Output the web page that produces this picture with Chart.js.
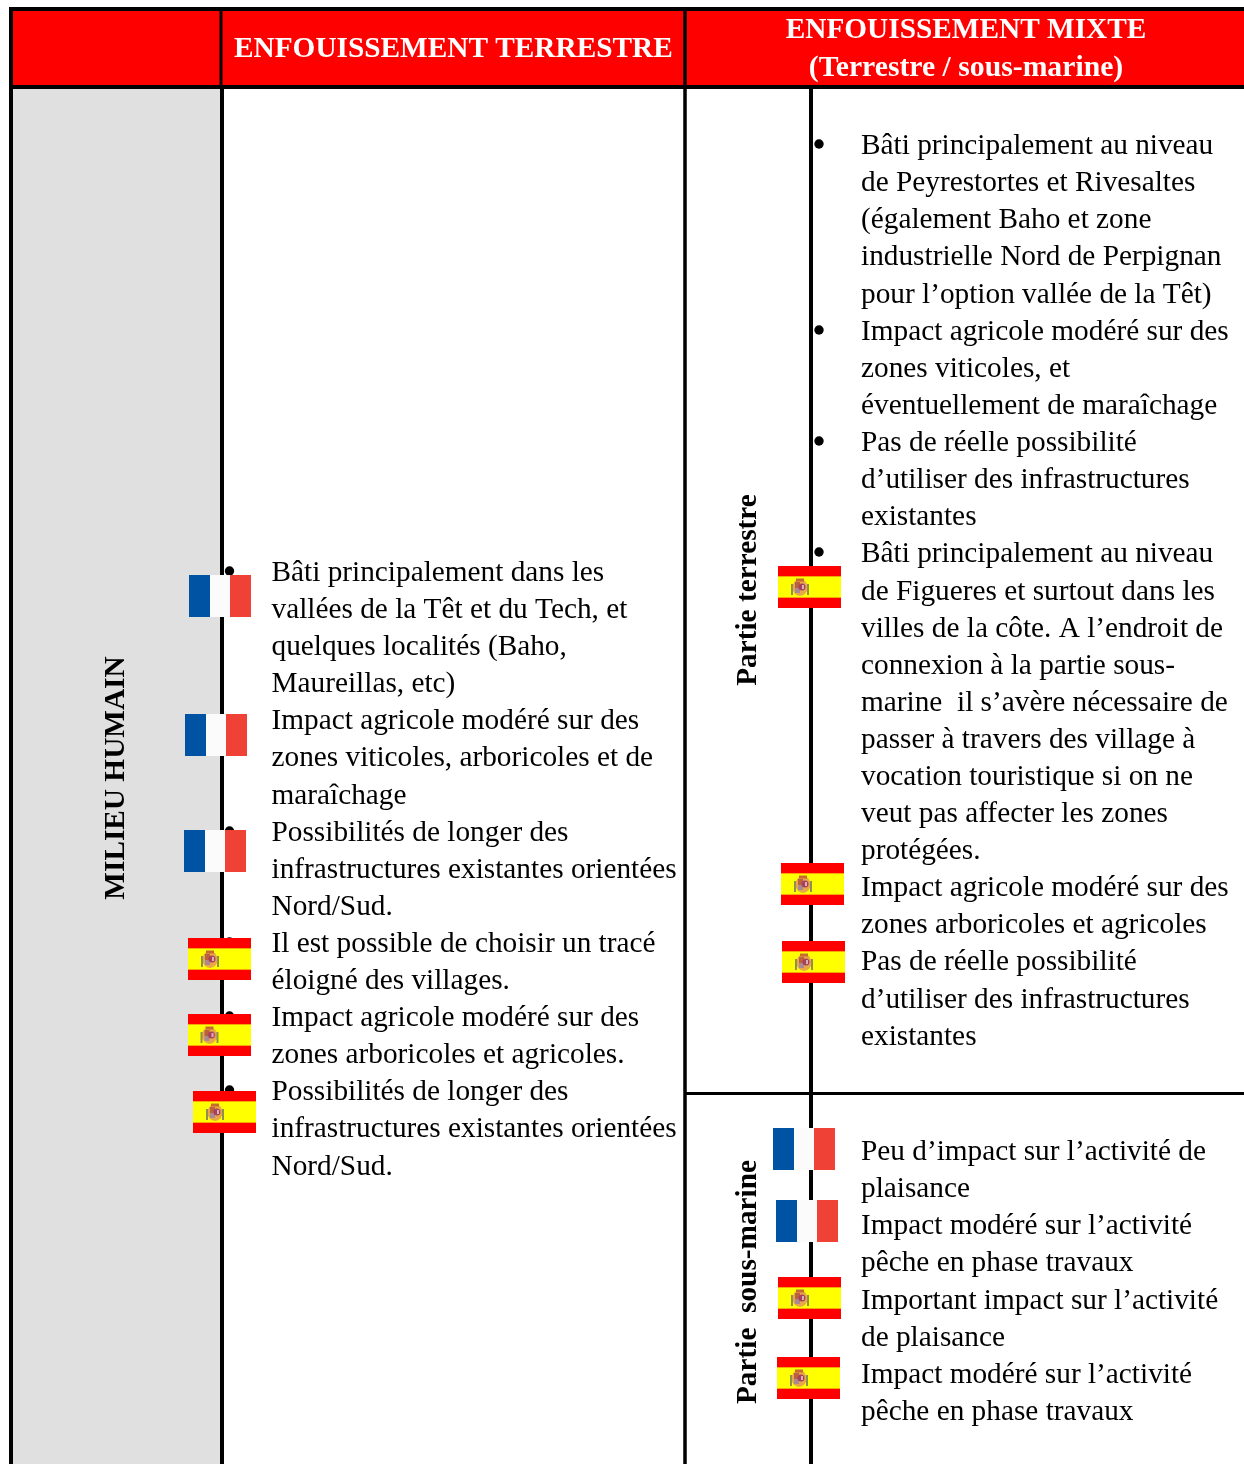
<!DOCTYPE html>
<html lang="fr">
<head>
<meta charset="utf-8">
<title>Milieu humain</title>
<script src="https://cdn.jsdelivr.net/npm/chart.js@4/dist/chart.umd.min.js"></script>
<style>
    html, body { margin: 0; padding: 0; background: #fff; }
    canvas { display: block; }
</style>
</head>
<body>
<canvas id="tableChart" width="1244" height="1464"></canvas>
<script>
// Table text, line by line
const headerLeft = ['ENFOUISSEMENT TERRESTRE'];
const headerRight = ['ENFOUISSEMENT MIXTE', '(Terrestre / sous-marine)'];
const rowLabel = 'MILIEU HUMAIN';
const partLabels = ['Partie terrestre', 'Partie  sous-marine'];

const leftLines = [
    'Bâti principalement dans les',
    'vallées de la Têt et du Tech, et',
    'quelques localités (Baho,',
    'Maureillas, etc)',
    'Impact agricole modéré sur des',
    'zones viticoles, arboricoles et de',
    'maraîchage',
    'Possibilités de longer des',
    'infrastructures existantes orientées',
    'Nord/Sud.',
    'Il est possible de choisir un tracé',
    'éloigné des villages.',
    'Impact agricole modéré sur des',
    'zones arboricoles et agricoles.',
    'Possibilités de longer des',
    'infrastructures existantes orientées',
    'Nord/Sud.'
];
const leftLineY = [571, 608, 645, 682, 719, 756, 794, 831, 868, 905, 942, 979, 1016, 1053, 1090, 1127, 1165];

const rightLines = [
    'Bâti principalement au niveau',
    'de Peyrestortes et Rivesaltes',
    '(également Baho et zone',
    'industrielle Nord de Perpignan',
    'pour l’option vallée de la Têt)',
    'Impact agricole modéré sur des',
    'zones viticoles, et',
    'éventuellement de maraîchage',
    'Pas de réelle possibilité',
    'd’utiliser des infrastructures',
    'existantes',
    'Bâti principalement au niveau',
    'de Figueres et surtout dans les',
    'villes de la côte. A l’endroit de',
    'connexion à la partie sous-',
    'marine  il s’avère nécessaire de',
    'passer à travers des village à',
    'vocation touristique si on ne',
    'veut pas affecter les zones',
    'protégées.',
    'Impact agricole modéré sur des',
    'zones arboricoles et agricoles',
    'Pas de réelle possibilité',
    'd’utiliser des infrastructures',
    'existantes',
    'Peu d’impact sur l’activité de',
    'plaisance',
    'Impact modéré sur l’activité',
    'pêche en phase travaux',
    'Important impact sur l’activité',
    'de plaisance',
    'Impact modéré sur l’activité',
    'pêche en phase travaux'
];
const rightLineY = [144, 181, 218, 255, 293, 330, 367, 404, 441, 478, 515, 552, 590, 627, 664, 701, 738, 775, 812, 849, 886, 923, 960, 998, 1035,
    1150, 1187, 1224, 1261, 1299, 1336, 1373, 1410];

// Bullets sit on the first line of each item
const leftBulletY = [571, 719, 831, 942, 1016, 1090];
const rightBulletY = [144, 330, 441, 552, 886, 960, 1150, 1224, 1299, 1373];

// Flag centres
const franceX = [220, 216, 215, 804, 807];
const franceY = [596, 735, 851, 1149, 1221];
const spainX = [219.5, 219, 224.5, 809.5, 812.5, 813.5, 809.5, 808.5];
const spainY = [959, 1035, 1112, 587, 884, 962, 1298, 1378];

function zip(xs, ys) {
    return xs.map((x, i) => ({ x: x, y: ys[i] }));
}

function rule(x1, y1, x2, y2, width) {
    return {
        type: 'scatter',
        showLine: true,
        data: [{ x: x1, y: y1 }, { x: x2, y: y2 }],
        borderColor: '#000',
        borderWidth: width,
        pointRadius: 0,
        order: 2
    };
}

function frenchFlag() {
    const c = document.createElement('canvas');
    c.width = 62;
    c.height = 42;
    const g = c.getContext('2d');
    g.fillStyle = '#fbfbfb';
    g.fillRect(0, 0, 62, 42);
    g.fillStyle = '#0052a3';
    g.fillRect(0, 0, 21, 42);
    g.fillStyle = '#ef4135';
    g.fillRect(41, 0, 21, 42);
    return c;
}

function spanishFlag() {
    const c = document.createElement('canvas');
    c.width = 63;
    c.height = 42;
    const g = c.getContext('2d');
    g.fillStyle = '#fe0000';
    g.fillRect(0, 0, 63, 42);
    g.fillStyle = '#f5a800';
    g.fillRect(0, 10, 63, 22);
    g.fillStyle = '#ffff00';
    g.fillRect(0, 11, 63, 20);
    // small coat of arms, soft like the scaled bitmap in the original
    g.filter = 'blur(0.6px)';
    g.fillStyle = '#e8a848';
    g.beginPath();
    g.ellipse(22, 21.5, 7.5, 8.5, 0, 0, Math.PI * 2);
    g.fill();
    g.fillStyle = '#c86a30';
    g.fillRect(18, 12.5, 8, 3);
    g.fillStyle = '#b9623c';
    g.fillRect(17, 16, 5, 6);
    g.fillStyle = '#a98a90';
    g.fillRect(17, 22, 5, 5);
    g.fillStyle = '#a8405c';
    g.beginPath();
    g.arc(24, 21, 3.5, 0, Math.PI * 2);
    g.fill();
    g.fillStyle = '#d8b0b8';
    g.fillRect(24, 19, 2, 4);
    g.fillStyle = '#8f8f50';
    g.fillRect(13, 18, 2, 11);
    g.fillRect(29, 18, 2, 11);
    g.filter = 'none';
    return c;
}

const tablePlugin = {
    id: 'tablePlugin',
    beforeDatasetsDraw(chart) {
        const ctx = chart.ctx;
        const sx = chart.scales.x;
        const sy = chart.scales.y;
        ctx.save();
        ctx.fillStyle = '#ff0000';
        ctx.fillRect(sx.getPixelForValue(13), sy.getPixelForValue(11), sx.getPixelForValue(1244) - sx.getPixelForValue(13), 74);
        ctx.fillStyle = '#e0e0e0';
        ctx.fillRect(sx.getPixelForValue(13), sy.getPixelForValue(89), 207, sy.getPixelForValue(1464) - sy.getPixelForValue(89));
        ctx.restore();
    },
    afterDraw(chart) {
        const ctx = chart.ctx;
        const sx = chart.scales.x;
        const sy = chart.scales.y;
        ctx.save();
        ctx.textBaseline = 'alphabetic';

        // header
        ctx.fillStyle = '#ffffff';
        ctx.font = 'bold 29.3px "Liberation Serif"';
        ctx.textAlign = 'left';
        ctx.fillText(headerLeft[0], sx.getPixelForValue(234), sy.getPixelForValue(57));
        ctx.textAlign = 'center';
        ctx.fillText(headerRight[0], sx.getPixelForValue(966), sy.getPixelForValue(38));
        ctx.font = 'bold 29.7px "Liberation Serif"';
        ctx.fillText(headerRight[1], sx.getPixelForValue(966), sy.getPixelForValue(76));

        // body text
        ctx.fillStyle = '#000000';
        ctx.font = '29.3px "Liberation Serif"';
        ctx.textAlign = 'left';
        leftLines.forEach((line, i) => {
            ctx.fillText(line, sx.getPixelForValue(271.5), sy.getPixelForValue(leftLineY[i] + 9.5));
        });
        rightLines.forEach((line, i) => {
            ctx.fillText(line, sx.getPixelForValue(861), sy.getPixelForValue(rightLineY[i] + 9.5));
        });

        // rotated labels
        ctx.font = 'bold 29.3px "Liberation Serif"';
        ctx.textAlign = 'center';
        const rotated = (text, x, y) => {
            ctx.save();
            ctx.translate(sx.getPixelForValue(x), sy.getPixelForValue(y));
            ctx.rotate(-Math.PI / 2);
            ctx.fillText(text, 0, 0);
            ctx.restore();
        };
        rotated(rowLabel, 124, 778);
        rotated(partLabels[0], 756, 590);
        rotated(partLabels[1], 756, 1282);
        ctx.restore();
    }
};

new Chart(document.getElementById('tableChart'), {
    type: 'scatter',
    data: {
        datasets: [
            {
                label: 'France',
                data: zip(franceX, franceY),
                pointStyle: frenchFlag(),
                order: 0
            },
            {
                label: 'Espagne',
                data: zip(spainX, spainY),
                pointStyle: spanishFlag(),
                order: 0
            },
            {
                label: 'Puces',
                data: zip(leftBulletY.map(() => 229.5), leftBulletY).concat(zip(rightBulletY.map(() => 819), rightBulletY)),
                pointStyle: 'circle',
                pointRadius: 4.7,
                borderWidth: 0,
                backgroundColor: '#000',
                order: 1
            },
            rule(9, 9, 1244, 9, 4),
            rule(13, 87, 1244, 87, 4),
            rule(11, 7, 11, 1464, 4),
            rule(221, 11, 221, 85, 3),
            rule(222, 89, 222, 1464, 4),
            rule(685, 11, 685, 1464, 3.5),
            rule(811, 89, 811, 1464, 4),
            rule(685, 1093.5, 1244, 1093.5, 3)
        ]
    },
    options: {
        responsive: false,
        animation: false,
        layout: { padding: 0, autoPadding: false },
        clip: false,
        plugins: {
            legend: { display: false },
            tooltip: { enabled: false }
        },
        scales: {
            x: { type: 'linear', min: 0, max: 1244, display: false },
            y: { type: 'linear', min: 0, max: 1464, reverse: true, display: false }
        }
    },
    plugins: [tablePlugin]
});
</script>
</body>
</html>
